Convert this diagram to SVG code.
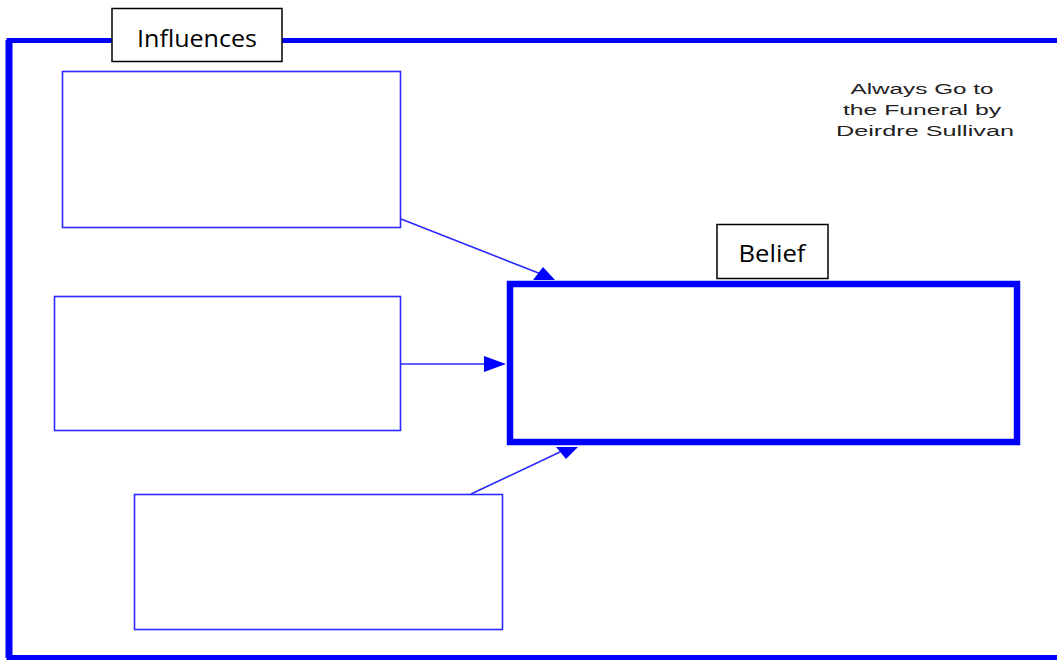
<svg xmlns="http://www.w3.org/2000/svg" width="1057" height="660" viewBox="0 0 1057 660">
<style>
.frame{fill:none;stroke:#0000ff;stroke-width:5}
.box{fill:#ffffff;stroke:#2a2aff;stroke-width:1.6}
.belief{fill:#ffffff;stroke:#0000ff;stroke-width:6.5}
.label{fill:#ffffff;stroke:#000000;stroke-width:1.5}
.lt{font-family:"Open Sans","Liberation Sans",sans-serif;font-size:23px;fill:#000000}
.title{font-family:"Liberation Sans",Arial,sans-serif;font-size:15.5px;fill:#222222}
.conn line{stroke:#2a2aff;stroke-width:1.6}
.conn polygon{fill:#0000ff}
</style>
<rect width="1057" height="660" fill="#ffffff"/>
<g id="frame">
<rect class="frame" x="9" y="40.5" width="1070" height="617"/>
<line x1="9" y1="40" x2="9" y2="658" stroke="#0000ff" stroke-width="7"/>
</g>
<g id="influences-label">
<rect class="label" x="112" y="8.5" width="170" height="53"/>
<text class="lt" x="197" y="47" text-anchor="middle" textLength="120" lengthAdjust="spacingAndGlyphs">Influences</text>
</g>
<g id="title">
<text class="title" x="922" y="94" text-anchor="middle" textLength="143" lengthAdjust="spacingAndGlyphs">Always Go to</text>
<text class="title" x="922" y="115" text-anchor="middle" textLength="158" lengthAdjust="spacingAndGlyphs">the Funeral by</text>
<text class="title" x="925" y="136" text-anchor="middle" textLength="178" lengthAdjust="spacingAndGlyphs">Deirdre Sullivan</text>
</g>
<g id="box1"><rect class="box" x="62.5" y="71.5" width="338" height="156"/></g>
<g id="box2"><rect class="box" x="54.5" y="296.5" width="346" height="134"/></g>
<g id="box3"><rect class="box" x="134.5" y="494.5" width="368" height="135"/></g>
<g id="belief">
<rect class="belief" x="510" y="284" width="507" height="158"/>
</g>
<g id="belief-label">
<rect class="label" x="717" y="224.5" width="111" height="54"/>
<text class="lt" x="772" y="262" text-anchor="middle" textLength="67" lengthAdjust="spacingAndGlyphs">Belief</text>
</g>
<g class="conn" id="connectors">
<line x1="401" y1="219" x2="541" y2="274"/>
<polygon points="533,280 555,280 543,267"/>
<line x1="401" y1="364" x2="486" y2="364"/>
<polygon points="484,356 506,364 484,372"/>
<line x1="471" y1="494" x2="560" y2="452"/>
<polygon points="556,447 578,447 566,459"/>
</g>
</svg>
